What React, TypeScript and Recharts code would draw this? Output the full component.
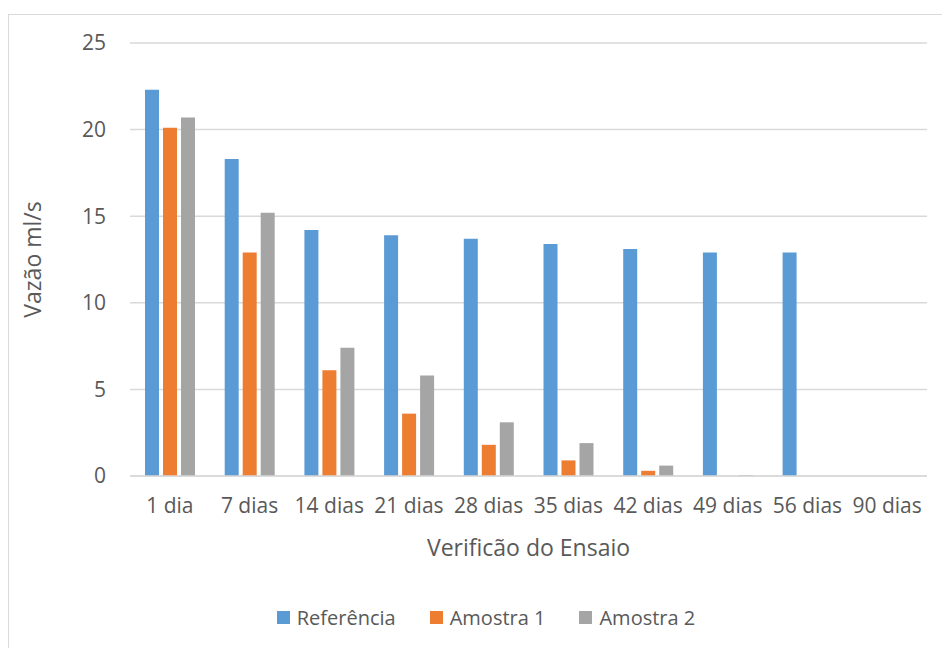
import { BarChart, Bar, XAxis, YAxis, CartesianGrid, Legend } from 'recharts'

const categories = ['1 dia', '7 dias', '14 dias', '21 dias', '28 dias', '35 dias', '42 dias', '49 dias', '56 dias', '90 dias']
const referencia = [22.3, 18.3, 14.2, 13.9, 13.7, 13.4, 13.1, 12.9, 12.9, 0]
const amostra1 = [20.1, 12.9, 6.1, 3.6, 1.8, 0.9, 0.3, 0, 0, 0]
const amostra2 = [20.7, 15.2, 7.4, 5.8, 3.1, 1.9, 0.6, 0.05, 0, 0]
const yTicks = [0, 5, 10, 15, 20, 25]

// note: a data key called "ref" ends up spread onto the bar shapes, so avoid it
const seriesList = [
  { key: 'referencia', name: 'Referência', color: '#5B9BD5', values: referencia },
  { key: 'amostra1', name: 'Amostra 1', color: '#ED7D31', values: amostra1 },
  { key: 'amostra2', name: 'Amostra 2', color: '#A5A5A5', values: amostra2 },
]

const data = categories.map((cat, i) => {
  const row: Record<string, string | number> = { cat }
  seriesList.forEach((s) => {
    row[s.key] = s.values[i]
  })
  return row
})

const FONT = '"Open Sans", sans-serif'
const TEXT = '#595959'
const GRID = '#d9d9d9'

const renderYTitle = (props: any) => {
  const { viewBox } = props
  const cx = 23
  const cy = viewBox.y + viewBox.height / 2
  return (
    <text
      x={cx}
      y={cy}
      transform={`rotate(-90, ${cx}, ${cy})`}
      textAnchor="middle"
      dominantBaseline="central"
      fill={TEXT}
      fontSize={23}
      fontFamily={FONT}
    >
      Vazão ml/s
    </text>
  )
}

const renderXTitle = (props: any) => {
  const { viewBox } = props
  return (
    <text
      x={viewBox.x + viewBox.width / 2}
      y={viewBox.y + 80}
      textAnchor="middle"
      fill={TEXT}
      fontSize={23}
      fontFamily={FONT}
    >
      Verificão do Ensaio
    </text>
  )
}

const renderLegend = () => (
  <div
    style={{
      height: 28,
      display: 'flex',
      justifyContent: 'center',
      alignItems: 'center',
      fontFamily: FONT,
      fontSize: 20,
      color: TEXT,
      paddingLeft: 36,
    }}
  >
    {seriesList.map((s, i) => (
      <div key={s.key} style={{ display: 'flex', alignItems: 'center', marginLeft: i === 0 ? 0 : 34 }}>
        <span style={{ width: 13, height: 13, background: s.color, marginRight: 7, display: 'inline-block' }} />
        <span>{s.name}</span>
      </div>
    ))}
  </div>
)

export default function App() {
  return (
    <div
      style={{
        position: 'fixed',
        left: 8,
        top: 14,
        width: 934,
        height: 634,
        background: '#fff',
        borderLeft: `1px solid ${GRID}`,
        borderTop: `1px solid ${GRID}`,
      }}
    >
      <BarChart
        width={933}
        height={633}
        data={data}
        margin={{ top: 28, right: 15, left: 0, bottom: 17 }}
        barSize={14}
        barGap={4}
      >
        <CartesianGrid vertical={false} stroke={GRID} strokeWidth={1.5} />
        <XAxis
          dataKey="cat"
          height={127}
          axisLine={{ stroke: GRID, strokeWidth: 1.5 }}
          tickLine={false}
          tickMargin={16}
          tick={{ fill: TEXT, fontSize: 21, fontFamily: FONT }}
          interval={0}
          label={{ content: renderXTitle }}
        />
        <YAxis
          width={121}
          domain={[0, 25]}
          ticks={yTicks}
          axisLine={false}
          tickLine={false}
          tickMargin={18}
          tick={{ fill: TEXT, fontSize: 21, fontFamily: FONT }}
          label={{ content: renderYTitle }}
        />
        <Legend verticalAlign="bottom" content={renderLegend} />
        {seriesList.map((s) => (
          <Bar key={s.key} dataKey={s.key} name={s.name} fill={s.color} isAnimationActive={false} />
        ))}
      </BarChart>
    </div>
  )
}
